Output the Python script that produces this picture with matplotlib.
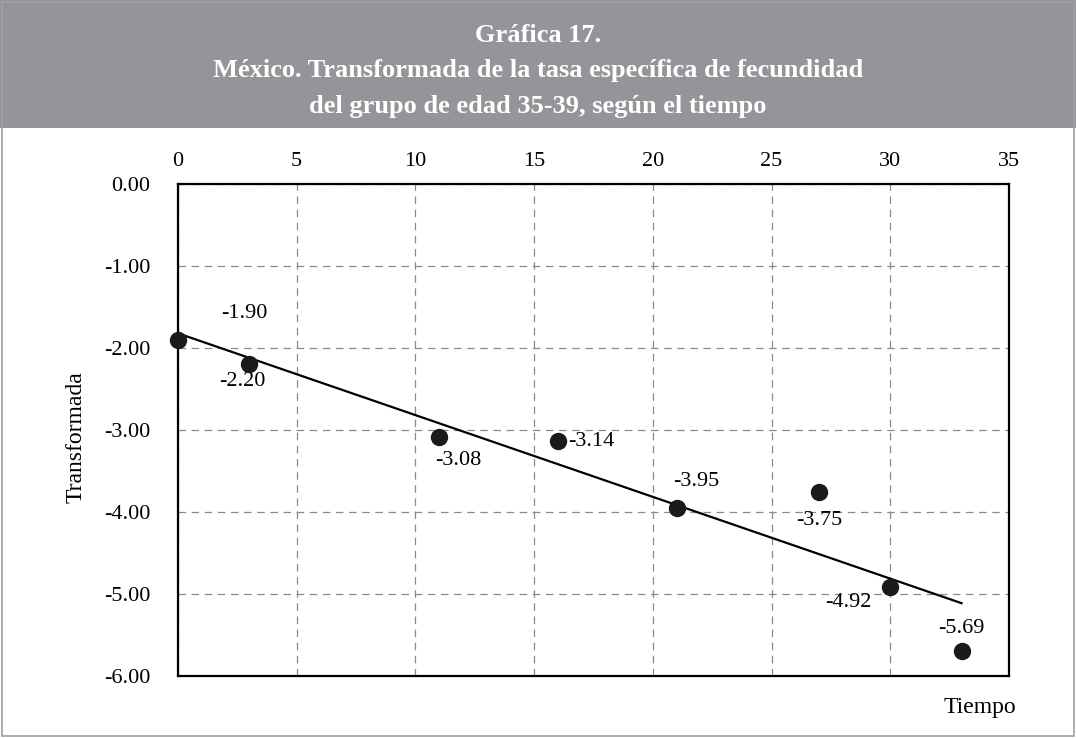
import numpy as np
import matplotlib
matplotlib.use("Agg")
import matplotlib.pyplot as plt
from matplotlib.patches import Rectangle

# Data
tiempo = [0, 3, 11, 16, 21, 27, 30, 33]
transformada = [-1.90, -2.20, -3.08, -3.14, -3.95, -3.75, -4.92, -5.69]
labels = ["-1.90", "-2.20", "-3.08", "-3.14", "-3.95", "-3.75", "-4.92", "-5.69"]
x_ticks = [0, 5, 10, 15, 20, 25, 30, 35]
y_ticks = [0, -1, -2, -3, -4, -5, -6]
title_lines = ["Gráfica 17.",
               "México. Transformada de la tasa específica de fecundidad",
               "del grupo de edad 35-39, según el tiempo"]

# label offsets (points)
offsets = [(48, 19), (-5, -12), (14, -17), (24, 0), (14, 19), (0, -21), (-30, -11), (0, 16)]

plt.rcParams['font.family'] = ['Liberation Serif', 'DejaVu Serif']

W, H = 1076, 738
fig = plt.figure(figsize=(W / 100, H / 100), dpi=100)

# banner
fig.patches.append(Rectangle((0, 1 - 128 / H), 1, 128 / H, transform=fig.transFigure,
                             facecolor="#939598", edgecolor="none", zorder=0))
# outer border
fig.patches.append(Rectangle((2 / W, 2 / H), 1 - 4 / W, 1 - 4 / H, transform=fig.transFigure,
                             facecolor="none", edgecolor="#a0a0a0", linewidth=1.2, zorder=1))
for i, (line, yp) in enumerate(zip(title_lines, [35, 71, 107])):
    fig.text(0.5, 1 - yp / H, line, ha="center", va="center", color="white",
             fontsize=19, fontweight="bold")

left, right, top, bottom = 178, 1009, 184, 676
ax = fig.add_axes([left / W, 1 - bottom / H, (right - left) / W, (bottom - top) / H])

ax.set_xlim(0, 35)
ax.set_ylim(-6, 0)
ax.xaxis.tick_top()
ax.set_xticks(x_ticks)
ax.set_yticks(y_ticks)
ax.set_yticklabels([f"{v:.2f}" for v in y_ticks])
ax.tick_params(axis="both", length=0, labelsize=16)
ax.tick_params(axis="y", pad=20)
ax.tick_params(axis="x", pad=9)
ax.grid(True, color="#8a8a8a", linestyle=(0, (6, 4.5)), linewidth=0.9)
ax.set_axisbelow(True)
for s in ax.spines.values():
    s.set_linewidth(1.6)
    s.set_color("black")

# regression line
m, b = np.polyfit(tiempo, transformada, 1)
xs = np.array([min(tiempo), max(tiempo)])
ax.plot(xs, m * xs + b, color="black", linewidth=1.6, zorder=3)

ax.plot(tiempo, transformada, "o", color="#1a1a1a", markersize=11.5, zorder=4, clip_on=False)

for xv, yv, lab, off in zip(tiempo, transformada, labels, offsets):
    ax.annotate(lab, (xv, yv), xytext=off, textcoords="offset points",
                ha="center", va="center", fontsize=16)

fig.text(76 / W, 1 - 437 / H, "Transformada", rotation=90, ha="center", va="center", fontsize=17)
fig.text(980 / W, 1 - 707 / H, "Tiempo", ha="center", va="center", fontsize=17)

fig.savefig("out.png", dpi=100)
